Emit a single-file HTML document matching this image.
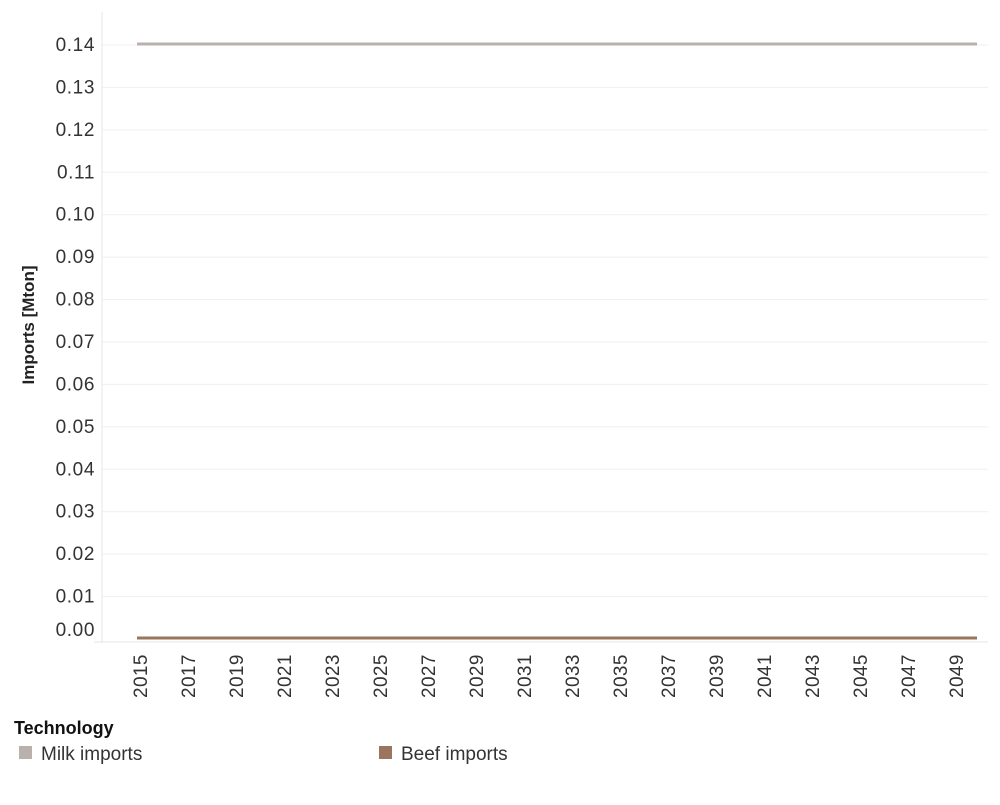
<!DOCTYPE html>
<html><head><meta charset="utf-8"><style>
body{margin:0;background:#fff;font-family:"Liberation Sans",sans-serif;}
</style></head><body>
<svg width="1000" height="800" xmlns="http://www.w3.org/2000/svg">
<g id="grid"></g>
<g id="yaxis"></g>
<g id="xaxis"></g>
<g id="series"></g>
<text transform="translate(34,325) rotate(-90)" text-anchor="middle" font-size="17" font-weight="bold" fill="#222">Imports [Mton]</text>
<text x="14" y="734" font-size="18" font-weight="bold" fill="#111">Technology</text>
<g><rect x="19" y="746" width="13" height="13" fill="#bab0ac"/><text x="41" y="760" font-size="19" fill="#333">Milk imports</text></g>
<g><rect x="379" y="746" width="13" height="13" fill="#9c755f"/><text x="401" y="760" font-size="19" fill="#333">Beef imports</text></g>
</svg>
<script>
const years=[];for(let y=2015;y<=2050;y++)years.push(y);
const milk=years.map(()=>0.14);
const beef=years.map(()=>0.0);
const yTicks=[0,0.01,0.02,0.03,0.04,0.05,0.06,0.07,0.08,0.09,0.10,0.11,0.12,0.13,0.14];
const NS="http://www.w3.org/2000/svg";
const L=102,R=988,Y0=638,Y14=44;
const ys=v=>Y0-(v/0.14)*(Y0-Y14);
const xs=yr=>140+(yr-2015)*24;
function mk(t,a,p){const e=document.createElementNS(NS,t);for(const k in a)e.setAttribute(k,a[k]);p.appendChild(e);return e;}
const g=document.getElementById('grid'),ya=document.getElementById('yaxis'),xa=document.getElementById('xaxis'),se=document.getElementById('series');
yTicks.forEach(v=>{
 if(v>0){const l=mk('line',{x1:L,x2:R,y1:ys(v)+1,y2:ys(v)+1,stroke:'#efefef'},g);
 }
 const t=mk('text',{x:95,y:(v===0?ys(v)-9:ys(v))+7,'text-anchor':'end','font-size':19,'letter-spacing':'0.6',fill:'#333'},ya);
 t.textContent=v.toFixed(2);
 
});
mk('line',{x1:L,x2:L,y1:12,y2:642,stroke:'#e6e6e6'},ya);
mk('line',{x1:L-8,x2:R,y1:642,y2:642,stroke:'#e6e6e6'},xa);
years.forEach(yr=>{
 if((yr-2015)%2===0){const t=mk('text',{transform:`translate(${xs(yr)+7},698) rotate(-90)`,'font-size':19,'letter-spacing':'0.4',fill:'#333'},xa);
 t.textContent=yr;}
});
function line(vals,color,name){
 const d=vals.map((v,i)=>(i?'L':'M')+(xs(years[i])-3)+','+ys(v)).join(' ');
 const p=mk('path',{d:d,fill:'none',stroke:color,'stroke-width':3},se);
 
}
line(milk,'#bab0ac','milk-imports-line');
line(beef,'#9c755f','beef-imports-line');
</script>
</body></html>
